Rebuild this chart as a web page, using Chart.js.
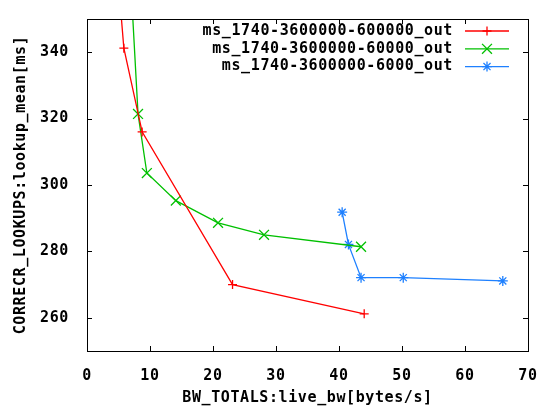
<!DOCTYPE html>
<html>
<head>
<meta charset="utf-8">
<script src="https://cdn.jsdelivr.net/npm/chart.js@4"></script>
<style>
  html, body { margin: 0; padding: 0; background: #fff; }
  #wrap { width: 547px; height: 407px; }
</style>
</head>
<body>
<div id="wrap"><canvas id="plot"></canvas></div>
<script>
// values
const seriesNames = [
    'ms_1740-3600000-600000_out',
    'ms_1740-3600000-60000_out',
    'ms_1740-3600000-6000_out'
];
const redX = [4.6, 5.85, 8.75, 23.1, 44.0];
const redY = [370, 341.2, 316.0, 270.0, 261.2];
const greenX = [6.7, 8.1, 9.5, 14.1, 20.8, 28.1, 43.5];
const greenY = [370, 321.4, 303.6, 295.3, 288.6, 285.0, 281.4];
const blueX = [40.5, 41.5, 43.5, 50.2, 66.0];
const blueY = [291.8, 282.1, 272.1, 272.1, 271.1];
const xTicks = [0, 10, 20, 30, 40, 50, 60, 70];
const yTicks = [260, 280, 300, 320, 340];

const colors = ['#ff0000', '#00c000', '#1e80ff'];
const markers = ['cross', 'crossRot', 'star'];
const markerSizes = [4.5, 7, 5];
const FONT = 'DejaVu Sans Mono';
const SPACING = '0.6px';

function toPoints(xs, ys) {
    return xs.map((x, i) => ({x: x, y: ys[i]}));
}

const allX = [redX, greenX, blueX];
const allY = [redY, greenY, blueY];
const datasets = seriesNames.map((name, i) => ({
    label: name,
    data: toPoints(allX[i], allY[i]),
    borderColor: colors[i],
    backgroundColor: colors[i],
    borderWidth: 1.3,
    pointStyle: markers[i],
    pointRadius: markerSizes[i],
    pointBorderWidth: 1.3,
    showLine: true,
    tension: 0
}));

// same geometry as Chart.js point styles
function drawMarker(ctx, style, x, y, r) {
    const d = r * Math.SQRT1_2;
    ctx.beginPath();
    if (style === 'cross' || style === 'star') {
        ctx.moveTo(x - r, y); ctx.lineTo(x + r, y);
        ctx.moveTo(x, y - r); ctx.lineTo(x, y + r);
    }
    if (style === 'crossRot' || style === 'star') {
        ctx.moveTo(x - d, y - d); ctx.lineTo(x + d, y + d);
        ctx.moveTo(x - d, y + d); ctx.lineTo(x + d, y - d);
    }
    ctx.stroke();
}

// wider glyphs, like the gnuplot bitmap font
const spacingPlugin = {
    id: 'spacing',
    beforeLayout(chart) { chart.ctx.letterSpacing = SPACING; },
    beforeDraw(chart) { chart.ctx.letterSpacing = SPACING; }
};

// gnuplot style frame with inward ticks and a key at the top right
const framePlugin = {
    id: 'frame',
    afterDraw(chart) {
        const ctx = chart.ctx;
        const a = chart.chartArea;
        const xs = chart.scales.x, ys = chart.scales.y;
        ctx.save();
        ctx.strokeStyle = '#000';
        ctx.lineWidth = 1;
        ctx.strokeRect(Math.round(a.left) + 0.5, Math.round(a.top) + 0.5,
            Math.round(a.right - a.left), Math.round(a.bottom - a.top));
        ctx.beginPath();
        xs.ticks.forEach(t => {
            const px = Math.round(xs.getPixelForValue(t.value)) + 0.5;
            if (t.value !== 0 && t.value !== 70) {
                ctx.moveTo(px, a.bottom); ctx.lineTo(px, a.bottom - 5);
                ctx.moveTo(px, a.top); ctx.lineTo(px, a.top + 5);
            }
        });
        ys.ticks.forEach(t => {
            const py = Math.round(ys.getPixelForValue(t.value)) + 0.5;
            ctx.moveTo(a.left, py); ctx.lineTo(a.left + 5, py);
            ctx.moveTo(a.right, py); ctx.lineTo(a.right - 5, py);
        });
        ctx.stroke();

        // key
        ctx.font = 'bold 15px "' + FONT + '"';
        ctx.letterSpacing = SPACING;
        ctx.textAlign = 'right';
        ctx.textBaseline = 'middle';
        chart.data.datasets.forEach((ds, i) => {
            const y = a.top + 12 + i * 17.8;
            ctx.fillStyle = '#000';
            ctx.fillText(ds.label, a.right - 75, y);
            ctx.strokeStyle = ds.borderColor;
            ctx.lineWidth = 1.3;
            ctx.beginPath();
            ctx.moveTo(a.right - 63, y); ctx.lineTo(a.right - 19, y);
            ctx.stroke();
            drawMarker(ctx, ds.pointStyle, a.right - 41, y, ds.pointRadius);
        });
        ctx.restore();
    }
};

const tickFont = {family: FONT, size: 15, weight: 'bold'};

new Chart(document.getElementById('plot'), {
    type: 'scatter',
    data: {datasets: datasets},
    options: {
        responsive: true,
        maintainAspectRatio: false,
        animation: false,
        layout: {padding: {top: 10, right: 19, left: 0, bottom: 0}},
        plugins: {
            legend: {display: false},
            tooltip: {enabled: false}
        },
        scales: {
            x: {
                type: 'linear',
                min: 0,
                max: 70,
                grid: {display: false},
                border: {display: false},
                afterBuildTicks: s => { s.ticks = xTicks.map(v => ({value: v})); },
                afterFit: s => { s.height = 56; },
                ticks: {color: '#000', font: tickFont, padding: 8, maxRotation: 0},
                title: {
                    display: true,
                    text: 'BW_TOTALS:live_bw[bytes/s]',
                    color: '#000',
                    font: tickFont,
                    padding: {top: 0, bottom: 0}
                }
            },
            y: {
                type: 'linear',
                min: 250,
                max: 350,
                grid: {display: false},
                border: {display: false},
                afterBuildTicks: s => { s.ticks = yTicks.map(v => ({value: v})); },
                afterFit: s => { s.width = 87; },
                ticks: {color: '#000', font: tickFont, padding: 10},
                title: {
                    display: true,
                    text: 'CORRECR_LOOKUPS:lookup_mean[ms]',
                    color: '#000',
                    font: tickFont,
                    padding: {top: 12, bottom: 0}
                }
            }
        }
    },
    plugins: [spacingPlugin, framePlugin]
});
</script>
</body>
</html>
